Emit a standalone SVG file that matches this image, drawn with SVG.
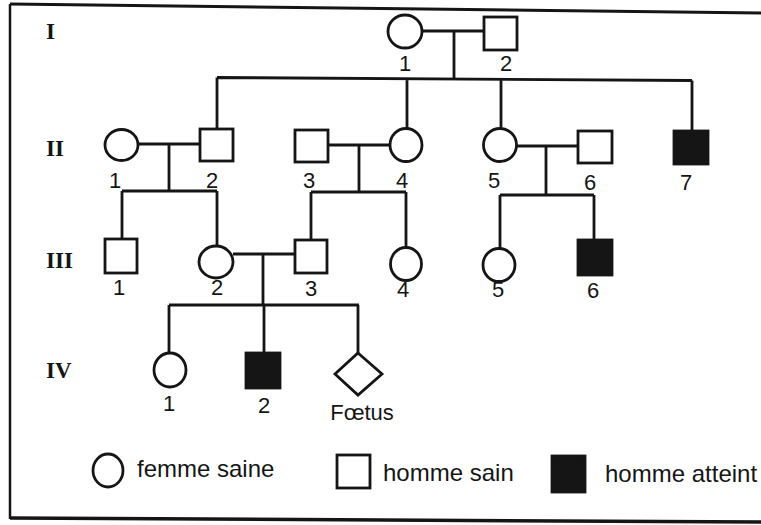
<svg xmlns="http://www.w3.org/2000/svg" width="761" height="525" viewBox="0 0 761 525">
<style>
.s{fill:#fff;stroke:#151515;stroke-width:2.8}
.a{fill:#151515;stroke:#151515;stroke-width:2.8}
.c{fill:none;stroke:#151515;stroke-width:2.8}
.n{font-family:"Liberation Sans",Arial,sans-serif;font-size:22px;fill:#151515;text-anchor:middle}
.g{font-family:"Liberation Serif","Times New Roman",serif;font-size:23px;font-weight:bold;fill:#151515}
.l{font-family:"Liberation Sans",Arial,sans-serif;font-size:24px;fill:#151515}
</style>
<rect width="761" height="525" fill="#fff"/>
<g id="frame" fill="none" stroke="#151515">
<line x1="10" y1="4" x2="761" y2="13" stroke-width="3"/>
<line x1="10" y1="4" x2="10" y2="519" stroke-width="2.5"/>
<line x1="10" y1="518" x2="761" y2="522" stroke-width="3.5"/>
</g>
<g id="generations">
<text class="g" x="46" y="39">I</text>
<text class="g" x="46" y="156">II</text>
<text class="g" x="46" y="268">III</text>
<text class="g" x="46" y="378">IV</text>
</g>
<g id="connectors" class="c">
<path d="M422 31H484M454 31V78.5"/>
<path d="M217 77.5L692 80.5M217 77.5V129M407 78.7V128.5M501 79.3V128.5M692 80.5V131"/>
<path d="M138 144H200M169 144V191M122 191H217M122 191V239M217 191V246"/>
<path d="M328 145H390M359 145V192M311 192H406M311 192V240M406 192V247.5"/>
<path d="M516 146H578M546 146V195M500 195H594M500 195V248.5M594 195V240"/>
<path d="M233 254H295M263 254V305M169 305H359M169 305V353M264 305V353M358 305V353"/>
</g>
<g id="I-1"><ellipse class="s" cx="405" cy="31.5" rx="17" ry="16.5"/><text class="n" x="405" y="71">1</text></g>
<g id="I-2"><rect class="s" x="484" y="17" width="33" height="33"/><text class="n" x="506" y="71">2</text></g>
<g id="II-1"><ellipse class="s" cx="121.5" cy="145" rx="16.5" ry="15.5"/><text class="n" x="115" y="188">1</text></g>
<g id="II-2"><rect class="s" x="200" y="129" width="33" height="32"/><text class="n" x="212" y="188">2</text></g>
<g id="II-3"><rect class="s" x="295" y="130" width="33" height="32"/><text class="n" x="309" y="188">3</text></g>
<g id="II-4"><ellipse class="s" cx="406" cy="145" rx="16" ry="16.5"/><text class="n" x="402" y="188">4</text></g>
<g id="II-5"><ellipse class="s" cx="500" cy="145" rx="16.5" ry="16.5"/><text class="n" x="494" y="188">5</text></g>
<g id="II-6"><rect class="s" x="578" y="131" width="34" height="32"/><text class="n" x="590" y="190">6</text></g>
<g id="II-7"><rect class="a" x="674" y="131" width="34" height="33"/><text class="n" x="686" y="190">7</text></g>
<g id="III-1"><rect class="s" x="105" y="239" width="32" height="34"/><text class="n" x="119" y="295">1</text></g>
<g id="III-2"><ellipse class="s" cx="216" cy="262" rx="17" ry="16"/><text class="n" x="217" y="295">2</text></g>
<g id="III-3"><rect class="s" x="295" y="240" width="32" height="33"/><text class="n" x="311" y="296">3</text></g>
<g id="III-4"><ellipse class="s" cx="406" cy="264" rx="15.5" ry="16.5"/><text class="n" x="403" y="297">4</text></g>
<g id="III-5"><ellipse class="s" cx="499" cy="265" rx="16" ry="16.5"/><text class="n" x="498" y="297">5</text></g>
<g id="III-6"><rect class="a" x="578" y="240" width="34" height="35"/><text class="n" x="593" y="298">6</text></g>
<g id="IV-1"><ellipse class="s" cx="170" cy="370" rx="16" ry="17"/><text class="n" x="169" y="411">1</text></g>
<g id="IV-2"><rect class="a" x="246" y="353" width="34" height="35"/><text class="n" x="264" y="413">2</text></g>
<g id="IV-foetus"><polygon class="s" points="358,353 382,374 358,395 335,374"/><text class="n" x="362" y="420">Fœtus</text></g>
<g id="legend">
<ellipse class="s" cx="108" cy="470.5" rx="15" ry="16.5" stroke-width="3"/>
<text class="l" x="137" y="477">femme saine</text>
<rect class="s" x="337" y="455" width="33" height="33" stroke-width="3"/>
<text class="l" x="383" y="481">homme sain</text>
<rect class="a" x="552" y="456" width="33" height="36"/>
<text class="l" x="605" y="482">homme atteint</text>
</g>
</svg>
